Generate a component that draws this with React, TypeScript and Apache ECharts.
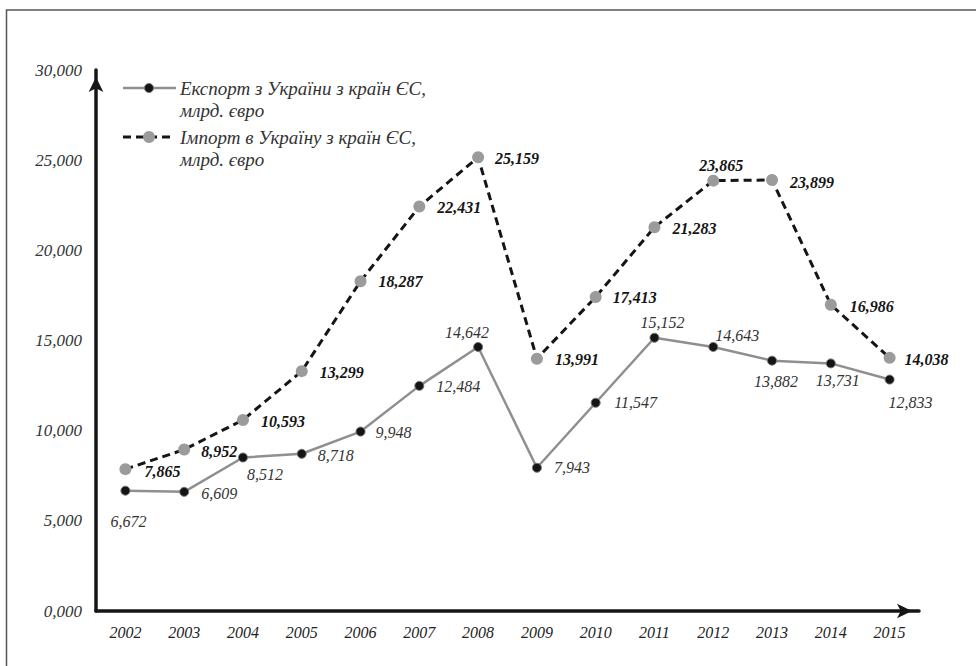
import React, { useEffect, useRef } from "react";
import * as echarts from "echarts";

const years = ["2002", "2003", "2004", "2005", "2006", "2007", "2008", "2009", "2010", "2011", "2012", "2013", "2014", "2015"];
const exportValues = [6.672, 6.609, 8.512, 8.718, 9.948, 12.484, 14.642, 7.943, 11.547, 15.152, 14.643, 13.882, 13.731, 12.833];
const importValues = [7.865, 8.952, 10.593, 13.299, 18.287, 22.431, 25.159, 13.991, 17.413, 21.283, 23.865, 23.899, 16.986, 14.038];
const exportName = "Експорт з України з країн ЄС,\nмлрд. євро";
const importName = "Імпорт в Україну з країн ЄС,\nмлрд. євро";

// label placement (label centre relative to the point), kept apart from the values
const exportLabelOffsets = [[3, 31], [35, 2], [22, 17], [34, 2], [33, 1], [39, 1], [-11, -14], [35, 0], [40, 0], [8, -15], [24, -11], [4, 21], [7, 17], [21, 23]];
const importLabelOffsets = [[37, 2], [35, 2], [40, 2], [40, 1], [40, 0], [40, 1], [39, 1], [40, 1], [39, 1], [40, 1], [8, -15], [40, 2], [41, 2], [37, 2]];

const FONT = "'Liberation Serif', 'Times New Roman', serif";
const fmt = (v: number) => v.toFixed(3).replace(".", ",");

export default function App() {
  const ref = useRef<HTMLDivElement>(null);
  useEffect(() => {
    if (!ref.current) return;
    const chart = echarts.init(ref.current, null, { renderer: "svg" });
    const mk = (vals: number[], offs: number[][], bold: boolean, color: string) =>
      vals.map((v, i) => ({
        value: v,
        label: {
          show: true,
          position: "inside",
          offset: offs[i],
          formatter: () => fmt(v),
          color,
          fontFamily: FONT,
          fontStyle: "italic",
          fontWeight: bold ? "bold" : "normal",
          fontSize: 16,
        },
      }));
    chart.setOption({
      animation: false,
      backgroundColor: "#fff",
      grid: { left: 96, right: 57, top: 70, bottom: 55 },
      xAxis: {
        type: "category",
        data: years,
        boundaryGap: true,
        axisLine: {
          show: true,
          lineStyle: { color: "#161616", width: 3.5 },
          symbol: ["none", "arrow"],
          symbolSize: [11, 15],
          symbolOffset: [0, -7],
        },
        axisTick: { show: false },
        axisLabel: { color: "#222", fontFamily: FONT, fontStyle: "italic", fontSize: 16, margin: 13 },
        splitLine: { show: false },
      },
      yAxis: {
        type: "value",
        min: 0,
        max: 30,
        interval: 5,
        axisLine: {
          show: true,
          lineStyle: { color: "#161616", width: 3.5 },
          symbol: ["none", "arrow"],
          symbolSize: [11, 15],
          symbolOffset: [0, -7],
        },
        axisTick: { show: false },
        splitLine: { show: false },
        axisLabel: { color: "#333", fontFamily: FONT, fontStyle: "italic", fontSize: 17, margin: 14, formatter: (v: number) => fmt(v) },
      },
      series: [
        {
          name: exportName,
          type: "line",
          data: mk(exportValues, exportLabelOffsets, false, "#333"),
          symbol: "circle",
          symbolSize: 9,
          lineStyle: { color: "#8f8f8f", width: 2.5 },
          itemStyle: { color: "#151515", borderColor: "#777", borderWidth: 1 },
          z: 3,
        },
        {
          name: importName,
          type: "line",
          data: mk(importValues, importLabelOffsets, true, "#151515"),
          symbol: "circle",
          symbolSize: 12,
          lineStyle: { color: "#151515", width: 3, type: [8, 5] },
          itemStyle: { color: "#9b9b9b" },
          z: 4,
        },
      ],
      graphic: [
        { type: "rect", shape: { x: 6.5, y: 10, width: 1200, height: 900 }, style: { fill: "none", stroke: "#555", lineWidth: 1.5 }, silent: true },
        { type: "line", shape: { x1: 123, y1: 88, x2: 176, y2: 88 }, style: { stroke: "#8f8f8f", lineWidth: 2.5 } },
        { type: "circle", shape: { cx: 149, cy: 88, r: 4.5 }, style: { fill: "#151515", stroke: "#777", lineWidth: 1 } },
        {
          type: "text", x: 180, y: 77,
          style: { text: exportName, fill: "#333", font: `italic 19px ${FONT}`, lineHeight: 22, textVerticalAlign: "top" },
        },
        { type: "line", shape: { x1: 123, y1: 137, x2: 173, y2: 137 }, style: { stroke: "#151515", lineWidth: 3, lineDash: [8, 5] } },
        { type: "circle", shape: { cx: 149, cy: 137, r: 6 }, style: { fill: "#9b9b9b" } },
        {
          type: "text", x: 180, y: 126,
          style: { text: importName, fill: "#333", font: `italic 19px ${FONT}`, lineHeight: 22, textVerticalAlign: "top" },
        },
      ],
    });
    return () => chart.dispose();
  }, []);
  return <div ref={ref} style={{ position: "fixed", left: 0, top: 0, width: 976, height: 666 }} />;
}
